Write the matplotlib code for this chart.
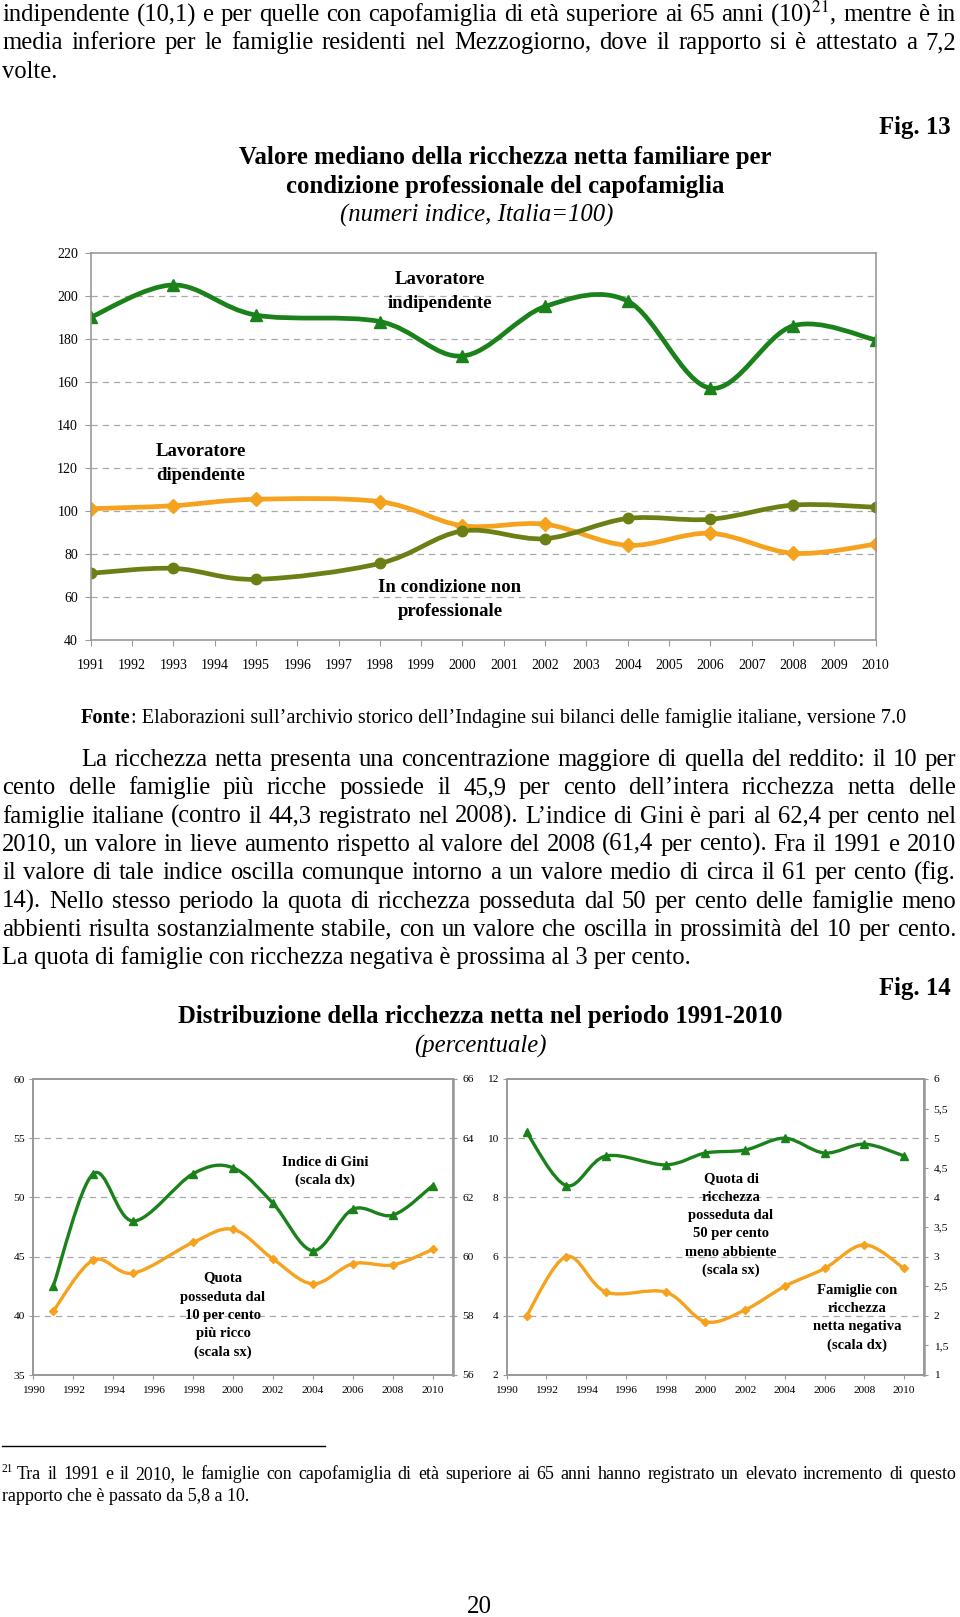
import numpy as np
import matplotlib
matplotlib.use("Agg")
import matplotlib.pyplot as plt
from matplotlib.path import Path
from matplotlib.patches import PathPatch

plt.rcParams['font.family'] = ['Liberation Serif', 'DejaVu Serif']
plt.rcParams['mathtext.fontset'] = 'stix'

# dati fig. 13 (numeri indice, Italia=100)
anni = [1991, 1993, 1995, 1998, 2000, 2002, 2004, 2006, 2008, 2010]
indipendente = [190, 205, 191, 188, 172, 195, 197.5, 157, 186, 179.5]
dipendente = [101, 102.4, 105.4, 104.3, 93.1, 93.8, 84, 89.6, 80.3, 84.5]
non_prof = [71, 73.3, 68.2, 75.6, 90.7, 87.1, 96.5, 96.1, 102.7, 101.7]
anni_tick13 = list(range(1991, 2011))

# dati fig. 14 (percentuale)
gini = [59.0, 62.8, 61.2, 62.8, 63.0, 61.8, 60.2, 61.6, 61.4, 62.4]
quota_10_ricchi = [40.4, 44.7, 43.6, 46.2, 47.3, 44.8, 42.7, 44.4, 44.3, 45.6]
quota_50_poveri = [10.2, 8.4, 9.4, 9.1, 9.5, 9.6, 10.0, 9.5, 9.8, 9.4]
ricchezza_negativa = [2.0, 3.0, 2.4, 2.4, 1.9, 2.1, 2.5, 2.8, 3.2, 2.8]
anni_tick14 = list(range(1990, 2011, 2))

VERDE = '#1b821b'
ARANCIO = '#f5a21e'
OLIVA = '#6b8014'
GRIGIO = '#999999'

W, H = 960, 1617
fig = plt.figure(figsize=(9.6, 16.17), dpi=100)
renderer = fig.canvas.get_renderer()


def txt(x, y, s, **kw):
    return fig.text(x / W, 1 - y / H, s, **kw)


def justify(line, y, x0, x1, size, **kw):
    words = line.split(' ')
    objs = [txt(0, y, w, size=size, va='baseline', **kw) for w in words]
    widths = [o.get_window_extent(renderer).width for o in objs]
    gap = (x1 - x0 - sum(widths)) / (len(words) - 1)
    x = x0
    for o, w in zip(objs, widths):
        o.set_x(x / W)
        x += w + gap


def smooth(ax, xs, ys, color, lw, marker, ms):
    # linea smussata tipo Excel (Bezier Catmull-Rom)
    p = np.column_stack([xs, ys]).astype(float)
    n = len(p)
    verts, codes = [p[0]], [Path.MOVETO]
    for i in range(n - 1):
        p0 = p[i - 1] if i > 0 else p[i]
        p3 = p[i + 2] if i + 2 < n else p[i + 1]
        verts += [p[i] + (p[i + 1] - p0) / 6, p[i + 1] - (p3 - p[i]) / 6, p[i + 1]]
        codes += [Path.CURVE4] * 3
    ax.add_patch(PathPatch(Path(verts, codes), fill=False, edgecolor=color,
                           lw=lw, capstyle='round', joinstyle='round'))
    ax.plot(xs, ys, ls='none', marker=marker, ms=ms, color=color)


def style(ax):
    for s in ax.spines.values():
        s.set_color(GRIGIO)
        s.set_linewidth(1.2)
    ax.tick_params(colors=GRIGIO, labelcolor='black', direction='out')


# ---------- testo iniziale ----------
BODY = 17.7
TIT = 17.8
justify("indipendente (10,1) e per quelle con capofamiglia di età superiore ai 65 anni (10)$^{21}$, mentre è in",
        21.3, 2, 956, BODY)
justify("media inferiore per le famiglie residenti nel Mezzogiorno, dove il rapporto si è attestato a 7,2",
        49.1, 2, 956, BODY)
txt(2, 77.5, "volte.", size=BODY, va='baseline')

# ---------- Fig. 13 ----------
txt(951, 134, "Fig. 13", size=TIT, weight='bold', ha='right', va='baseline')
txt(505, 164, "Valore mediano della ricchezza netta familiare per", size=TIT, weight='bold',
    ha='center', va='baseline')
txt(505, 193.5, "condizione professionale del capofamiglia", size=TIT, weight='bold',
    ha='center', va='baseline')
txt(477, 222, "(numeri indice, Italia=100)", size=TIT, style='italic', ha='center', va='baseline')

ax1 = fig.add_axes([90.6 / W, 1 - 640 / H, (875.7 - 90.6) / W, (640 - 252.7) / H])
ax1.set_xlim(1991, 2010)
ax1.set_ylim(40, 220)
ax1.set_yticks(range(40, 221, 20))
ax1.set_xticks(anni_tick13)
ax1.set_xticklabels([str(a) for a in anni_tick13], size=10)
ax1.tick_params(axis='y', labelsize=10, length=4, pad=5)
ax1.tick_params(axis='x', length=4, pad=10)
for v in range(60, 220, 20):
    ax1.axhline(v, color='#a8a8a8', lw=0.9, ls=(0, (5, 4)), zorder=0)
style(ax1)
smooth(ax1, anni, dipendente, ARANCIO, 3.4, 'D', 7)
smooth(ax1, anni, non_prof, OLIVA, 3.4, 'o', 7.5)
smooth(ax1, anni, indipendente, VERDE, 3.4, '^', 8.5)

for x, y, s in [(440, 280, "Lavoratore"), (440, 303, "indipendente"),
                (201, 451, "Lavoratore"), (201, 475, "dipendente"),
                (450, 588, "In condizione non"), (450, 611, "professionale")]:
    txt(x, y, s, size=13.5, weight='bold', ha='center', va='center')

# fonte
f = txt(81, 723, "Fonte", size=14.6, weight='bold', va='baseline')
wf = f.get_window_extent(renderer).width
txt(81 + wf, 723, ": Elaborazioni sull’archivio storico dell’Indagine sui bilanci delle famiglie italiane, versione 7.0",
    size=14.6, va='baseline')

# ---------- paragrafo ----------
righe = [
    "La ricchezza netta presenta una concentrazione maggiore di quella del reddito: il 10 per",
    "cento delle famiglie più ricche possiede il 45,9 per cento dell’intera ricchezza netta delle",
    "famiglie italiane (contro il 44,3 registrato nel 2008). L’indice di Gini è pari al 62,4 per cento nel",
    "2010, un valore in lieve aumento rispetto al valore del 2008 (61,4 per cento). Fra il 1991 e 2010",
    "il valore di tale indice oscilla comunque intorno a un valore medio di circa il 61 per cento (fig.",
    "14). Nello stesso periodo la quota di ricchezza posseduta dal 50 per cento delle famiglie meno",
    "abbienti risulta sostanzialmente stabile, con un valore che oscilla in prossimità del 10 per cento.",
]
for i, r in enumerate(righe):
    justify(r, 766 + i * 28.3, 81 if i == 0 else 2, 956, BODY)
txt(2, 766 + 7 * 28.3, "La quota di famiglie con ricchezza negativa è prossima al 3 per cento.",
    size=BODY, va='baseline')

# ---------- Fig. 14 ----------
txt(951, 995, "Fig. 14", size=TIT, weight='bold', ha='right', va='baseline')
txt(480, 1023.5, "Distribuzione della ricchezza netta nel periodo 1991-2010", size=TIT,
    weight='bold', ha='center', va='baseline')
txt(480, 1053, "(percentuale)", size=TIT, style='italic', ha='center', va='baseline')


def pannello(left, right, ylim_l, step_l, ylim_r, step_r, lab_r):
    ax = fig.add_axes([left / W, 1 - 1375 / H, (right - left) / W, (1375 - 1079) / H])
    ax.set_xlim(1990, 2011)
    ax.set_xticks(anni_tick14)
    ax.set_ylim(*ylim_l)
    ax.set_yticks(np.arange(ylim_l[0], ylim_l[1] + 0.01, step_l))
    ax.tick_params(labelsize=8.2, length=3)
    ax.tick_params(axis='x', pad=5)
    ax.tick_params(axis='y', pad=3)
    for v in ax.get_yticks()[1:-1]:
        ax.axhline(v, color='#a8a8a8', lw=0.9, ls=(0, (5, 4)), zorder=0)
    style(ax)
    tw = ax.twinx()
    tw.set_ylim(*ylim_r)
    tk = np.arange(ylim_r[0], ylim_r[1] + 0.01, step_r)
    tw.set_yticks(tk)
    tw.set_yticklabels(lab_r)
    tw.tick_params(labelsize=8.2, length=3, pad=4)
    style(tw)
    tw.spines['right'].set_linewidth(1.8)
    return ax, tw


axl, twl = pannello(33.3, 452.7, (35, 60), 5, (56, 66), 2,
                    [str(v) for v in range(56, 67, 2)])
smooth(axl, anni, quota_10_ricchi, ARANCIO, 2.4, 'D', 4.5)
smooth(twl, anni, gini, VERDE, 2.4, '^', 5.5)
for x, y, s in [(325, 1162, "Indice di Gini"), (325, 1180, "(scala dx)"),
                (223, 1278, "Quota"), (223, 1297, "posseduta dal"), (223, 1315, "10 per cento"),
                (223, 1333, "più ricco"), (223, 1352, "(scala sx)")]:
    txt(x, y, s, size=10.5, weight='bold', ha='center', va='center')

axr, twr = pannello(506.7, 924, (2, 12), 2, (1, 6), 0.5,
                    [f"{v:g}".replace('.', ',') for v in np.arange(1, 6.01, 0.5)])
smooth(axr, anni, quota_50_poveri, VERDE, 2.4, '^', 5.5)
smooth(twr, anni, ricchezza_negativa, ARANCIO, 2.4, 'D', 4.5)
for i, s in enumerate(["Quota di", "ricchezza", "posseduta dal", "50 per cento",
                       "meno abbiente", "(scala sx)"]):
    txt(731, 1179 + i * 18.3, s, size=10.5, weight='bold', ha='center', va='center')
for i, s in enumerate(["Famiglie con", "ricchezza", "netta negativa", "(scala dx)"]):
    txt(857, 1290 + i * 18.4, s, size=10.5, weight='bold', ha='center', va='center')

# ---------- nota ----------
fig.add_artist(plt.Line2D([2 / W, 325 / W], [1 - 1446 / H, 1 - 1446 / H], color='black', lw=1))
txt(2, 1472, "21", size=8.3, va='baseline')
justify("Tra il 1991 e il 2010, le famiglie con capofamiglia di età superiore ai 65 anni hanno registrato un elevato incremento di questo",
        1479, 17, 956, 12.9)
txt(2, 1501, "rapporto che è passato da 5,8 a 10.", size=12.9, va='baseline')

txt(479.5, 1613, "20", size=18, ha='center', va='baseline')

fig.savefig("out.png", dpi=100)
